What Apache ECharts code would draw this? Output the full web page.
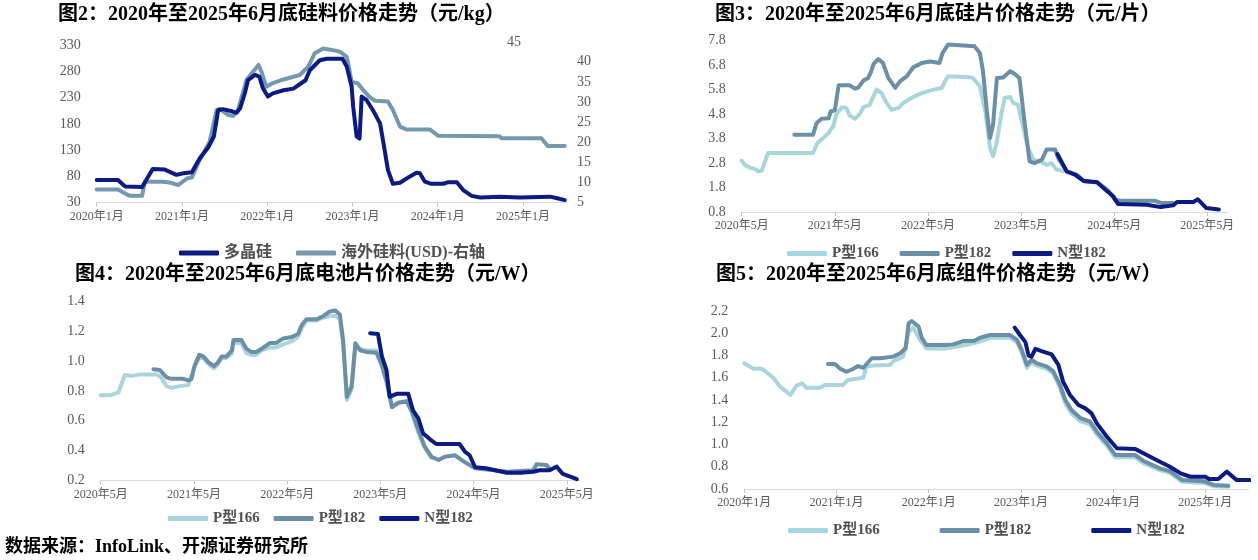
<!DOCTYPE html>
<html><head><meta charset="utf-8">
<script src="https://cdn.jsdelivr.net/npm/echarts@6/dist/echarts.min.js"></script>
<style>html,body{margin:0;padding:0;background:#fff}#c{width:1258px;height:560px}</style>
</head><body><div id="c"></div>
<script>
// ---------- DATA ----------
// 图2 硅料 (dates, 元/kg left axis; USD right axis)
const polySilicon = [['2020-01-01',73],['2020-04-01',73],['2020-05-01',61],['2020-07-13',60],['2020-08-28',94],['2020-10-19',93],['2020-12-08',83],['2021-01-07',86],['2021-02-13',88],['2021-03-16',114],['2021-04-22',135],['2021-05-16',156],['2021-06-04',206],['2021-06-25',208],['2021-08-01',204],['2021-08-22',201],['2021-09-07',210],['2021-09-28',240],['2021-10-10',263],['2021-11-10',273],['2021-11-28',270],['2021-12-13',248],['2022-01-04',232],['2022-01-25',238],['2022-03-10',244],['2022-04-22',247],['2022-06-13',263],['2022-07-01',282],['2022-08-13',301],['2022-09-13',304],['2022-11-19',304],['2022-12-07',289],['2022-12-28',251],['2023-01-04',213],['2023-01-19',156],['2023-02-01',152],['2023-02-10',232],['2023-03-01',225],['2023-03-28',206],['2023-04-28',181],['2023-05-10',149],['2023-06-01',92],['2023-06-22',66],['2023-07-22',68],['2023-09-04',80],['2023-10-01',87],['2023-10-16',86],['2023-11-07',70],['2023-12-04',66],['2024-01-25',66],['2024-02-16',69],['2024-03-22',69],['2024-04-19',54],['2024-05-25',43],['2024-07-01',40],['2024-09-22',41.5],['2024-12-19',40],['2025-04-25',41.5],['2025-05-22',39],['2025-06-28',35]];
const overseaSilicon = [['2020-01-01',8.3],['2020-04-01',8.3],['2020-05-01',7.3],['2020-05-20',6.7],['2020-07-13',6.7],['2020-07-25',10.2],['2020-10-10',10.2],['2020-11-10',10.0],['2020-12-16',9.4],['2021-01-22',11.0],['2021-02-13',11.3],['2021-03-16',15.6],['2021-04-28',20.1],['2021-05-28',28],['2021-06-10',28.3],['2021-07-16',26.8],['2021-08-07',26.5],['2021-08-28',28],['2021-10-04',35.5],['2021-11-01',37.5],['2021-11-25',39.2],['2021-12-07',37.5],['2021-12-28',33.8],['2022-01-25',34.7],['2022-03-10',35.6],['2022-05-19',36.7],['2022-06-25',38.8],['2022-07-22',42.1],['2022-08-28',43.3],['2022-10-25',42.7],['2022-11-13',42.3],['2022-12-07',41.2],['2022-12-13',39.6],['2022-12-28',35],['2023-01-25',34.6],['2023-02-16',33],['2023-03-13',31.3],['2023-04-07',30.3],['2023-06-01',30.1],['2023-06-22',28],['2023-07-22',23.9],['2023-08-19',23.2],['2023-11-28',23.2],['2024-01-04',21.6],['2024-09-22',21.5],['2024-10-01',21.0],['2025-03-19',21.0],['2025-04-16',19.1],['2025-06-28',19.1]];

// 图3 硅片 (元/片)
const waferP166 = [['2020-05-01',2.9],['2020-05-13',2.73],['2020-06-04',2.6],['2020-06-22',2.57],['2020-07-05',2.46],['2020-07-19',2.49],['2020-08-13',3.21],['2021-02-07',3.21],['2021-02-24',3.62],['2021-03-16',3.82],['2021-04-07',4.03],['2021-04-25',4.3],['2021-05-07',4.78],['2021-05-28',5.08],['2021-06-16',5.05],['2021-06-28',4.75],['2021-07-19',4.61],['2021-08-07',4.8],['2021-08-22',5.08],['2021-09-16',5.18],['2021-09-28',5.46],['2021-10-13',5.8],['2021-11-01',5.67],['2021-11-22',5.25],['2021-12-10',4.98],['2022-01-07',5.05],['2022-01-25',5.25],['2022-03-04',5.5],['2022-04-07',5.66],['2022-05-22',5.8],['2022-06-25',5.87],['2022-07-07',6.14],['2022-07-19',6.35],['2022-10-01',6.32],['2022-10-25',6.28],['2022-11-22',5.94],['2022-12-13',4.92],['2023-01-01',3.42],['2023-01-13',3.08],['2023-01-28',3.69],['2023-02-16',4.85],['2023-02-28',5.46],['2023-03-19',5.5],['2023-04-01',5.25],['2023-04-19',5.2],['2023-05-10',4.23],['2023-05-28',3.42],['2023-06-19',2.94],['2023-07-13',2.87],['2023-08-10',2.73],['2023-08-28',2.8],['2023-09-19',2.53],['2023-10-13',2.47]];
const waferP182 = [['2020-11-25',3.96],['2021-02-07',3.96],['2021-02-21',4.44],['2021-03-10',4.61],['2021-04-07',4.63],['2021-04-16',4.92],['2021-05-01',4.95],['2021-05-16',5.98],['2021-06-28',5.98],['2021-07-19',5.84],['2021-08-01',5.88],['2021-08-22',6.17],['2021-09-10',6.28],['2021-09-22',6.55],['2021-10-01',6.85],['2021-10-19',7.05],['2021-11-07',6.9],['2021-11-28',6.28],['2021-12-25',5.87],['2022-01-13',6.14],['2022-02-10',6.35],['2022-03-04',6.71],['2022-04-07',6.89],['2022-05-10',6.95],['2022-06-16',6.89],['2022-06-28',7.3],['2022-07-19',7.64],['2022-11-01',7.57],['2022-11-22',7.3],['2022-12-04',6.55],['2022-12-19',4.92],['2023-01-01',3.82],['2023-01-13',4.37],['2023-01-28',6.28],['2023-02-22',6.3],['2023-03-19',6.55],['2023-04-07',6.44],['2023-04-25',6.28],['2023-05-16',4.37],['2023-06-04',2.87],['2023-06-25',2.8],['2023-07-22',2.94],['2023-08-10',3.35],['2023-09-13',3.35],['2023-09-25',3.0],['2023-10-28',2.46],['2023-12-07',2.32],['2024-01-07',2.05],['2024-02-25',2.02],['2024-04-10',1.65],['2024-05-04',1.3],['2024-05-25',1.26],['2024-10-07',1.26],['2024-11-01',1.17],['2024-12-19',1.17]];
const waferN182 = [['2023-09-22',3.17],['2023-10-07',2.87],['2023-10-28',2.46],['2023-12-01',2.32],['2024-01-01',2.08],['2024-02-25',2.02],['2024-04-04',1.65],['2024-04-28',1.44],['2024-05-16',1.13],['2024-09-07',1.1],['2024-11-01',1.0],['2024-12-19',1.07],['2025-01-04',1.21],['2025-03-07',1.21],['2025-03-25',1.32],['2025-04-28',0.96],['2025-06-16',0.9]];

// 图4 电池片 (元/W)
const cellP166 = [['2020-05-01',0.77],['2020-06-07',0.77],['2020-07-10',0.79],['2020-08-04',0.906],['2020-09-01',0.9],['2020-10-04',0.91],['2020-12-07',0.91],['2020-12-25',0.89],['2021-01-16',0.83],['2021-02-04',0.82],['2021-03-01',0.83],['2021-04-10',0.84],['2021-05-01',0.95],['2021-05-22',1.02],['2021-06-07',1.02],['2021-06-28',0.98],['2021-07-19',0.95],['2021-08-04',0.98],['2021-08-19',1.02],['2021-09-07',1.02],['2021-09-28',1.05],['2021-10-04',1.12],['2021-11-04',1.12],['2021-11-25',1.05],['2021-12-13',1.04],['2022-01-01',1.04],['2022-01-22',1.07],['2022-02-25',1.09],['2022-03-19',1.09],['2022-04-16',1.11],['2022-05-19',1.13],['2022-06-13',1.16],['2022-06-28',1.22],['2022-07-16',1.27],['2022-08-25',1.27],['2022-09-22',1.29],['2022-10-16',1.3],['2022-11-07',1.3],['2022-11-25',1.28],['2022-12-07',1.12],['2022-12-22',0.74],['2023-01-10',0.81],['2023-01-25',1.1],['2023-02-13',1.08],['2023-03-07',1.07],['2023-04-16',1.07],['2023-05-07',0.97],['2023-05-25',0.86],['2023-06-16',0.7],['2023-07-10',0.72],['2023-08-13',0.73],['2023-09-01',0.66],['2023-09-28',0.52],['2023-10-22',0.42],['2023-11-19',0.35]];
const cellP182 = [['2020-11-25',0.944],['2020-12-19',0.94],['2021-01-16',0.89],['2021-02-04',0.88],['2021-03-19',0.88],['2021-04-10',0.87],['2021-04-22',0.88],['2021-05-04',0.97],['2021-05-22',1.04],['2021-06-07',1.03],['2021-06-28',0.99],['2021-07-19',0.966],['2021-08-04',0.99],['2021-08-19',1.03],['2021-09-07',1.03],['2021-09-28',1.07],['2021-10-04',1.14],['2021-11-04',1.14],['2021-11-25',1.08],['2021-12-13',1.06],['2022-01-01',1.06],['2022-01-22',1.08],['2022-02-25',1.12],['2022-03-19',1.12],['2022-04-16',1.15],['2022-05-19',1.16],['2022-06-13',1.18],['2022-06-28',1.24],['2022-07-16',1.278],['2022-08-25',1.278],['2022-09-22',1.3],['2022-10-16',1.33],['2022-11-07',1.336],['2022-11-25',1.31],['2022-12-07',1.14],['2022-12-22',0.76],['2023-01-10',0.83],['2023-01-25',1.118],['2023-02-13',1.07],['2023-03-07',1.06],['2023-04-16',1.055],['2023-05-07',0.97],['2023-05-25',0.87],['2023-06-16',0.69],['2023-07-10',0.72],['2023-08-13',0.73],['2023-09-01',0.67],['2023-09-28',0.54],['2023-10-22',0.43],['2023-11-19',0.36],['2023-12-16',0.338],['2024-01-10',0.36],['2024-02-19',0.37],['2024-04-04',0.316],['2024-05-07',0.283],['2024-09-10',0.26],['2024-12-22',0.27],['2025-01-04',0.31],['2025-02-13',0.305],['2025-02-25',0.28]];
const cellN182 = [['2023-03-22',1.185],['2023-04-22',1.18],['2023-05-07',1.03],['2023-05-25',0.94],['2023-06-07',0.76],['2023-07-04',0.78],['2023-08-19',0.78],['2023-09-07',0.67],['2023-09-28',0.617],['2023-10-16',0.517],['2023-11-13',0.476],['2023-12-07',0.445],['2024-03-07',0.445],['2024-03-28',0.394],['2024-04-16',0.37],['2024-05-07',0.29],['2024-06-19',0.283],['2024-09-10',0.253],['2024-11-01',0.253],['2024-12-22',0.26],['2025-01-16',0.27],['2025-02-25',0.27],['2025-03-22',0.294],['2025-04-16',0.245],['2025-06-10',0.21]];

// 图5 组件 (元/W)
const moduleP166 = [['2020-01-01',1.73],['2020-01-23',1.70],['2020-02-07',1.68],['2020-03-10',1.68],['2020-03-28',1.65],['2020-04-25',1.6],['2020-05-20',1.52],['2020-06-16',1.475],['2020-07-01',1.445],['2020-07-25',1.53],['2020-08-16',1.55],['2020-09-04',1.51],['2020-10-28',1.51],['2020-11-16',1.535],['2021-01-28',1.535],['2021-02-16',1.58],['2021-04-16',1.6],['2021-04-28',1.70],['2021-05-25',1.71],['2021-08-01',1.715],['2021-08-13',1.75],['2021-09-22',1.79],['2021-10-13',2.01],['2021-11-01',2.05],['2021-11-28',1.94],['2021-12-22',1.865],['2022-02-28',1.86],['2022-05-16',1.89],['2022-07-22',1.925],['2022-09-01',1.96],['2022-11-19',1.96],['2022-12-16',1.92],['2023-01-04',1.83],['2023-01-25',1.69],['2023-02-13',1.74],['2023-03-04',1.71],['2023-04-13',1.68],['2023-05-07',1.64],['2023-06-04',1.51],['2023-06-25',1.37],['2023-07-19',1.28],['2023-08-22',1.21],['2023-10-01',1.18],['2023-10-28',1.09],['2023-12-07',0.99],['2024-01-10',0.885],['2024-03-28',0.885],['2024-05-01',0.83],['2024-07-04',0.77],['2024-08-13',0.745],['2024-10-01',0.665],['2024-12-25',0.655],['2025-02-04',0.625],['2025-04-01',0.62]];
const moduleP182 = [['2020-11-28',1.724],['2020-12-25',1.724],['2021-01-16',1.68],['2021-02-10',1.654],['2021-03-07',1.68],['2021-03-25',1.705],['2021-04-16',1.69],['2021-05-19',1.775],['2021-06-22',1.775],['2021-08-13',1.79],['2021-09-10',1.82],['2021-10-01',1.865],['2021-10-13',2.09],['2021-10-25',2.11],['2021-11-22',2.06],['2021-12-04',1.96],['2021-12-22',1.894],['2022-03-04',1.894],['2022-04-07',1.9],['2022-05-16',1.93],['2022-06-28',1.93],['2022-07-22',1.96],['2022-09-01',1.984],['2022-11-19',1.984],['2022-12-16',1.94],['2023-01-04',1.85],['2023-01-25',1.715],['2023-02-13',1.76],['2023-03-04',1.73],['2023-04-13',1.70],['2023-05-07',1.66],['2023-06-04',1.535],['2023-06-25',1.4],['2023-07-19',1.31],['2023-08-22',1.24],['2023-10-01',1.205],['2023-10-28',1.115],['2023-12-07',1.01],['2024-01-10',0.905],['2024-03-28',0.905],['2024-05-01',0.85],['2024-07-04',0.786],['2024-08-13',0.76],['2024-10-01',0.68],['2024-12-25',0.67],['2025-02-04',0.636],['2025-04-01',0.63]];
const moduleN182 = [['2022-12-07',2.05],['2022-12-28',1.984],['2023-01-19',1.92],['2023-02-01',1.8],['2023-02-13',1.79],['2023-02-28',1.86],['2023-03-22',1.84],['2023-05-01',1.81],['2023-05-28',1.715],['2023-06-16',1.565],['2023-07-13',1.445],['2023-08-16',1.355],['2023-09-13',1.325],['2023-10-07',1.28],['2023-10-28',1.19],['2023-12-07',1.07],['2024-01-16',0.966],['2024-03-28',0.96],['2024-05-13',0.905],['2024-07-04',0.845],['2024-08-13',0.80],['2024-09-25',0.74],['2024-11-04',0.71],['2025-01-01',0.71],['2025-01-16',0.69],['2025-02-22',0.69],['2025-03-25',0.756],['2025-05-04',0.68],['2025-06-25',0.68]];

// tick labels
const xLabelsJan = ['2020年1月','2021年1月','2022年1月','2023年1月','2024年1月','2025年1月'];
const xLabelsMay = ['2020年5月','2021年5月','2022年5月','2023年5月','2024年5月','2025年5月'];
const yTicksPoly = [30,80,130,180,230,280,330];
const yTicksOversea = [5,10,15,20,25,30,35,40];
const yTicksWafer = [0.8,1.8,2.8,3.8,4.8,5.8,6.8,7.8];
const yTicksCell = [0.2,0.4,0.6,0.8,1.0,1.2,1.4];
const yTicksModule = [0.6,0.8,1.0,1.2,1.4,1.6,1.8,2.0,2.2];

// ---------- HELPERS ----------
const FONT = "'Liberation Serif','Noto Sans CJK SC',serif";
const C_DARK = '#0c1a83', C_MID = '#6b8fa7', C_LIGHT = '#a9d5dc', C_OVER = '#7598ae';
function months(s, baseMonth){ const [y,m,d] = s.split('-').map(Number); return (y-2020)*12 + (m-baseMonth) + (d-1)/30.5; }
function pts(arr, baseMonth){ return arr.map(p => [months(p[0], baseMonth), p[1]]); }
const xTickPos = [0,12,24,36,48,60];
function xAxis(gi, labels, max){
  return {type:'value', gridIndex:gi, min:0, max:max, interval:12,
    axisLine:{show:true, lineStyle:{color:'#d9d9d9', width:1.2}},
    axisTick:{show:true, length:4, customValues:xTickPos, lineStyle:{color:'#c8c8c8'}},
    splitLine:{show:false},
    axisLabel:{customValues:xTickPos, margin:8, color:'#595959', fontSize:12, fontFamily:FONT,
      formatter: v => { const i = Math.round(v/12); return Math.abs(v-i*12) < 0.01 && labels[i] ? labels[i] : ''; }}};
}
function yAxis(gi, min, max, interval, ticks, dec, pos, margin){
  return {type:'value', gridIndex:gi, min, max, interval, position:pos||'left',
    axisLine:{show:false}, axisTick:{show:false}, splitLine:{show:false},
    axisLabel:{customValues:ticks, margin: margin||16, color:'#595959', fontSize:14, fontFamily:FONT,
      formatter: v => ticks.some(t => Math.abs(t-v) < 1e-6) ? v.toFixed(dec) : ''}};
}
function line(name, data, color, xi, yi, z){
  return {name, type:'line', data, xAxisIndex:xi, yAxisIndex:yi, showSymbol:false, symbol:'none', z:z||2,
    lineStyle:{color, width:4, cap:'round', join:'round'}, itemStyle:{color}, emphasis:{disabled:true}};
}
const titleStyle = {fontFamily:FONT, fontWeight:'bold', fontSize:20, color:'#000'};
const legendText = {fontFamily:FONT, fontWeight:'bold', fontSize:15, color:'#505050'};
function legend(names, left, top, gap, fs){
  return {data:names, left, top, itemWidth:40, itemHeight:5, itemGap:gap, icon:'roundRect', padding:0,
    textStyle:Object.assign({}, legendText, fs ? {fontSize:fs} : {}), selectedMode:false};
}

// ---------- CHART ----------
const chart = echarts.init(document.getElementById('c'), null, {renderer:'canvas'});
chart.setOption({
  animation:false,
  backgroundColor:'#fff',
  title:[
    {text:'图2：2020年至2025年6月底硅料价格走势（元/kg）', left:58, top:5, padding:0, textStyle:titleStyle},
    {text:'图3：2020年至2025年6月底硅片价格走势（元/片）', left:715, top:5, padding:0, textStyle:titleStyle},
    {text:'图4：2020年至2025年6月底电池片价格走势（元/W）', left:75, top:265, padding:0, textStyle:titleStyle},
    {text:'图5：2020年至2025年6月底组件价格走势（元/W）', left:716, top:265, padding:0, textStyle:titleStyle},
    {text:'数据来源：InfoLink、开源证券研究所', left:5, top:538, padding:0, textStyle:Object.assign({}, titleStyle, {fontSize:18})}
  ],
  legend:[
    legend(['多晶硅','海外硅料(USD)-右轴'], 179, 245, 24, 16),
    legend(['P型166','P型182','N型182'], 787, 246, 21),
    legend(['P型166','P型182','N型182'], 168, 511, 14),
    legend(['P型166','P型182','N型182'], 788, 523, 60)
  ],
  grid:[
    {left:96.7, top:41.6, width:470.3, height:161.1},
    {left:741.7, top:40.7, width:485, height:171.3},
    {left:100.7, top:301, width:479.3, height:179.7},
    {left:744.3, top:311, width:504, height:178}
  ],
  xAxis:[
    xAxis(0, xLabelsJan, 66.2),
    xAxis(1, xLabelsMay, 62.5),
    xAxis(2, xLabelsMay, 61.7),
    xAxis(3, xLabelsJan, 65.6)
  ],
  yAxis:[
    yAxis(0, 30, 336.5, 50, yTicksPoly, 0, 'left'),
    yAxis(0, 5, 45, 5, yTicksOversea, 0, 'right', 10),
    yAxis(1, 0.8, 7.8, 1, yTicksWafer, 1, 'left'),
    yAxis(2, 0.2, 1.4, 0.2, yTicksCell, 1, 'left'),
    yAxis(3, 0.6, 2.2, 0.2, yTicksModule, 1, 'left')
  ],
  graphic:[
    {type:'text', left:507, top:35, style:{text:'45', fill:'#595959', font:"14px 'Liberation Serif'"}}
  ],
  series:[
    line('海外硅料(USD)-右轴', pts(overseaSilicon,1), C_OVER, 0, 1, 2),
    line('多晶硅', pts(polySilicon,1), C_DARK, 0, 0, 3),
    line('P型166', pts(waferP166,5), C_LIGHT, 1, 2, 2),
    line('P型182', pts(waferP182,5), C_MID, 1, 2, 3),
    line('N型182', pts(waferN182,5), C_DARK, 1, 2, 4),
    line('P型166', pts(cellP166,5), C_LIGHT, 2, 3, 2),
    line('P型182', pts(cellP182,5), C_MID, 2, 3, 3),
    line('N型182', pts(cellN182,5), C_DARK, 2, 3, 4),
    line('P型166', pts(moduleP166,1), C_LIGHT, 3, 4, 2),
    line('P型182', pts(moduleP182,1), C_MID, 3, 4, 3),
    line('N型182', pts(moduleN182,1), C_DARK, 3, 4, 4)
  ]
});
</script>
</body></html>
